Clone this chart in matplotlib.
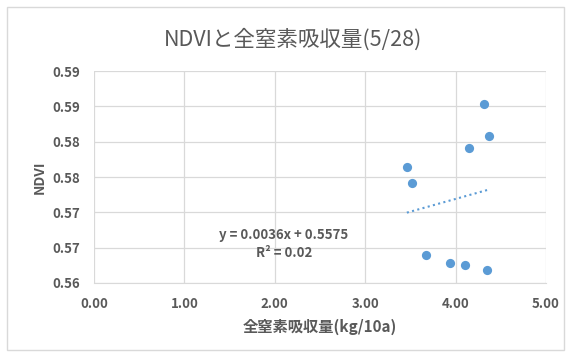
import matplotlib
matplotlib.use("Agg")
import matplotlib.pyplot as plt
from matplotlib.patches import Rectangle
import numpy as np

plt.rcParams['font.family'] = ['Noto Sans CJK JP', 'DejaVu Sans']

# data
nitrogen = [4.31, 4.37, 4.15, 3.46, 3.52, 3.67, 3.94, 4.10, 4.35]
ndvi = [0.5853, 0.5808, 0.5791, 0.5764, 0.5741, 0.5640, 0.5628, 0.5625, 0.5619]
slope, intercept = 0.0036, 0.5575
x_ticks = [0, 1, 2, 3, 4, 5]
y_ticks = [0.560, 0.565, 0.570, 0.575, 0.580, 0.585, 0.590]

grey = '#595959'
blue = '#5B9BD5'

fig = plt.figure(figsize=(5.70, 3.54), dpi=100)
fig.patches.append(Rectangle((0.012, 0.012), 0.978, 0.968, transform=fig.transFigure,
                             fill=False, edgecolor='#D9D9D9', linewidth=1))
ax = fig.add_axes([0.165, 0.2006, 0.793, 0.5988])

ax.scatter(nitrogen, ndvi, s=44, color=blue, zorder=3, linewidths=0)

xs = np.array([min(nitrogen), max(nitrogen) + 0.01])
ax.plot(xs, slope * xs + intercept, linestyle=(0, (1, 1.6)), color=blue, linewidth=1.5, zorder=2)

ax.set_xlim(0, 5)
ax.set_ylim(0.560, 0.590)
ax.set_xticks(x_ticks)
ax.set_yticks(y_ticks)
ax.set_xticklabels([f'{v:.2f}' for v in x_ticks])
ax.set_yticklabels([f'{v + 1e-9:.2f}' for v in y_ticks])
ax.grid(True, color='#D9D9D9', linewidth=0.9)
ax.set_axisbelow(True)
for s in ax.spines.values():
    s.set_visible(False)
ax.spines['bottom'].set_visible(True)
ax.spines['bottom'].set_color('#D9D9D9')
ax.tick_params(length=0, colors=grey, labelsize=9.5)
ax.tick_params(axis='y', pad=10)
ax.tick_params(axis='x', pad=10)
for lab in ax.get_xticklabels() + ax.get_yticklabels():
    lab.set_fontweight('bold')

fig.text(0.515, 1 - 40 / 354, 'NDVIと全窒素吸収量(5/28)', color=grey, fontsize=15.5,
         ha='center', va='center')
ax.set_xlabel('全窒素吸収量(kg/10a)', color=grey, fontsize=11, fontweight='bold', labelpad=6)
ax.set_ylabel('NDVI', color=grey, fontsize=10, fontweight='bold', labelpad=4)

ax.text(2.1, 0.5655, 'y = 0.0036x + 0.5575\nR² = 0.02', ha='center', va='center',
        color=grey, fontsize=9.5, fontweight='bold', linespacing=1.3)

fig.savefig('out.png', dpi=100)
